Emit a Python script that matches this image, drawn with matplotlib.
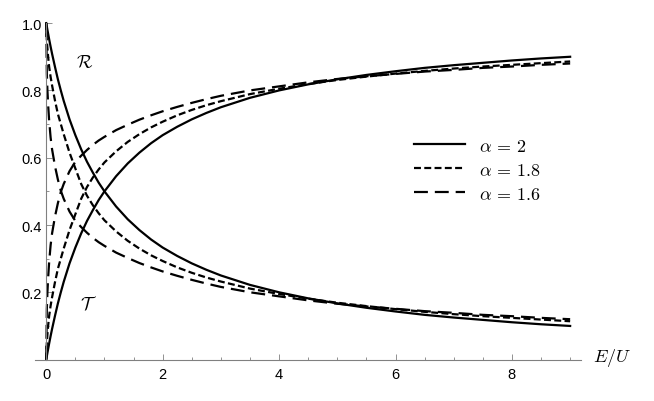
import matplotlib
matplotlib.use("Agg")
import matplotlib.pyplot as plt
from matplotlib.ticker import MultipleLocator, FixedLocator

# values
energy = [0, 0.01, 0.02, 0.035, 0.05, 0.075, 0.1, 0.15, 0.2, 0.25, 0.3, 0.4,
          0.5, 0.6, 0.7, 0.8, 0.9, 1.0, 1.2, 1.4, 1.6, 1.8, 2.0, 2.25, 2.5,
          2.75, 3, 3.5, 4, 4.5, 5, 5.5, 6, 6.5, 7, 7.5, 8, 8.5, 9]

refl_a20 = [1.0, 0.990, 0.980, 0.966, 0.952, 0.930, 0.909, 0.870, 0.833, 0.800,
            0.769, 0.714, 0.667, 0.625, 0.588, 0.556, 0.526, 0.500, 0.455, 0.417,
            0.385, 0.357, 0.333, 0.308, 0.286, 0.267, 0.250, 0.222, 0.200, 0.182,
            0.167, 0.154, 0.143, 0.133, 0.125, 0.118, 0.111, 0.105, 0.100]
refl_a18 = [1.0, 0.95, 0.925, 0.895, 0.87, 0.84, 0.815, 0.77, 0.73, 0.70,
            0.67, 0.615, 0.568, 0.522, 0.487, 0.459, 0.435, 0.414, 0.381, 0.353,
            0.330, 0.310, 0.293, 0.274, 0.258, 0.244, 0.232, 0.211, 0.195, 0.181,
            0.169, 0.159, 0.150, 0.142, 0.135, 0.129, 0.124, 0.119, 0.114]
refl_a16 = [1.0, 0.85, 0.80, 0.75, 0.71, 0.66, 0.625, 0.575, 0.535, 0.502,
            0.478, 0.44, 0.412, 0.394, 0.377, 0.362, 0.349, 0.338, 0.318, 0.302,
            0.287, 0.274, 0.262, 0.249, 0.237, 0.226, 0.216, 0.200, 0.188, 0.176,
            0.166, 0.158, 0.151, 0.144, 0.139, 0.133, 0.129, 0.124, 0.120]

trans_a20 = [0.0, 0.010, 0.020, 0.034, 0.048, 0.070, 0.091, 0.130, 0.167, 0.200,
             0.231, 0.286, 0.333, 0.375, 0.412, 0.444, 0.474, 0.500, 0.545, 0.583,
             0.615, 0.643, 0.667, 0.692, 0.714, 0.733, 0.750, 0.778, 0.800, 0.818,
             0.833, 0.846, 0.857, 0.867, 0.875, 0.882, 0.889, 0.895, 0.900]
trans_a18 = [0.0, 0.05, 0.075, 0.105, 0.13, 0.16, 0.185, 0.23, 0.27, 0.30,
             0.33, 0.385, 0.432, 0.478, 0.513, 0.541, 0.565, 0.586, 0.619, 0.647,
             0.670, 0.690, 0.707, 0.726, 0.742, 0.756, 0.768, 0.789, 0.805, 0.819,
             0.831, 0.841, 0.850, 0.858, 0.865, 0.871, 0.876, 0.881, 0.886]
trans_a16 = [0.0, 0.15, 0.20, 0.25, 0.29, 0.34, 0.375, 0.425, 0.465, 0.498,
             0.522, 0.56, 0.588, 0.606, 0.623, 0.638, 0.651, 0.662, 0.682, 0.698,
             0.713, 0.726, 0.738, 0.751, 0.763, 0.774, 0.784, 0.800, 0.812, 0.824,
             0.834, 0.842, 0.849, 0.856, 0.861, 0.867, 0.871, 0.876, 0.880]

alpha_labels = [r"$\alpha\,=\,2$", r"$\alpha\,=\,1.8$", r"$\alpha\,=\,1.6$"]

plt.rcParams["mathtext.fontset"] = "cm"
plt.rcParams["font.family"] = "Liberation Sans"
plt.rcParams["lines.scale_dashes"] = False

fig = plt.figure(figsize=(6.54, 4.02), dpi=100)
ax = fig.add_axes([0.0538, 0.103, 0.834, 0.837])

styles = [dict(linestyle="-"),
          dict(dashes=(5, 2.4)),
          dict(dashes=(10, 5))]

curves = [(refl_a20, trans_a20), (refl_a18, trans_a18), (refl_a16, trans_a16)]
for (refl, trans), st, lab in zip(curves, styles, alpha_labels):
    ax.plot(energy, refl, color="black", lw=1.6, clip_on=False, label=lab, **st)
    ax.plot(energy, trans, color="black", lw=1.6, clip_on=False, **st)

ax.set_xlim(-0.19, 9.18)
ax.set_ylim(0, 1.0)

# Mathematica-style axes crossing at the origin
for side in ("top", "right"):
    ax.spines[side].set_visible(False)
ax.spines["left"].set_position(("data", 0))
ax.spines["bottom"].set_position(("data", 0))
for side in ("left", "bottom"):
    ax.spines[side].set_color("#808080")
    ax.spines[side].set_linewidth(0.8)

ax.xaxis.set_major_locator(FixedLocator([0, 2, 4, 6, 8]))
ax.xaxis.set_minor_locator(MultipleLocator(0.5))
ax.yaxis.set_major_locator(FixedLocator([0.2, 0.4, 0.6, 0.8, 1.0]))
ax.yaxis.set_minor_locator(MultipleLocator(0.1))
ax.tick_params(which="major", direction="in", length=4, width=0.6,
               color="#808080", labelsize=10.5, pad=3)
ax.tick_params(which="minor", direction="in", length=2, width=0.6,
               color="#808080")
ax.tick_params(axis="x", pad=5)

ax.text(0.665, 0.884, r"$\mathcal{R}$", fontsize=13, ha="center", va="center")
ax.text(0.72, 0.165, r"$\mathcal{T}$", fontsize=13, ha="center", va="center")
ax.text(9.72, 0.008, r"$E/U$", fontsize=13, ha="center", va="center",
        clip_on=False)

ax.legend(loc="upper left", bbox_to_anchor=(0.695, 0.66), frameon=False,
          fontsize=13, handlelength=2.8, handletextpad=0.8, labelspacing=0.39,
          borderaxespad=0, borderpad=0)

fig.savefig("out.png", dpi=100)
